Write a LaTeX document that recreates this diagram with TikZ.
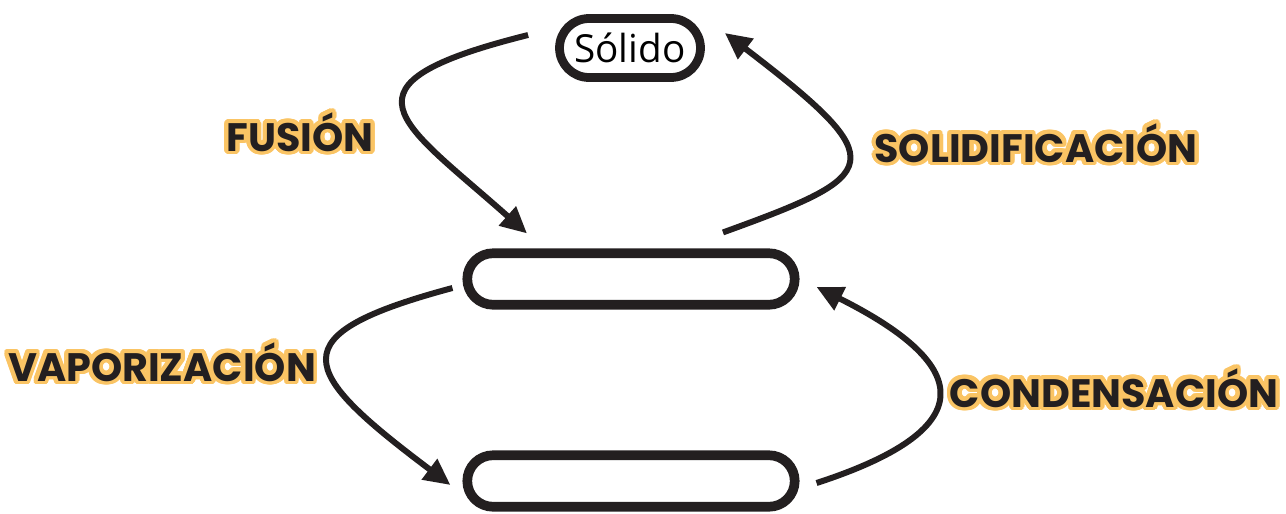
\documentclass[tikz,border=0pt]{standalone}
\usepackage{fontspec}
\usepackage{contour}
\usetikzlibrary{arrows.meta}
\newfontfamily\etiqfont{Poppins}
\newfontfamily\estadofont{Open Sans}
\definecolor{brillo}{RGB}{250,196,100}
\definecolor{tinta}{RGB}{35,31,32}
\contourlength{2.2pt}
\contournumber{32}

\begin{document}
\begin{tikzpicture}[x=0.02cm,y=-0.02cm,
    estado/.style={draw=tinta,line width=5.5pt,inner sep=0pt,minimum width=6.55cm,minimum height=1.03cm,rounded corners=0.515cm},
    flecha/.style={draw=tinta,line width=3.4pt,-{Triangle[length=15pt,width=14pt]}},
    proceso/.style={anchor=base,font=\etiqfont\bfseries\fontsize{22.6}{26}\selectfont,text=tinta}]
  \useasboundingbox (0,0) rectangle (1286,514);
  \node (solido) at (630,48) [estado,line width=5pt,minimum width=2.82cm,minimum height=1.18cm,rounded corners=0.59cm,font=\estadofont\fontsize{22}{26}\selectfont] {Sólido};
  \node (liquido) at (631,279) [estado] {};
  \node (gas) at (631,481) [estado] {};
  \draw[flecha] ([shift={(-27,-13)}]solido.west) .. controls +(-200,50) and +(-127,-113) .. ([shift={(-104,-15)}]liquido.north);
  \draw[flecha] ([shift={(92,-16)}]liquido.north) .. controls +(160,-58) and +(170,130) .. ([shift={(20,-15)}]solido.east);
  \draw[flecha] ([shift={(-10,9)}]liquido.west) .. controls +(-175,47) and +(-153,-115) .. ([shift={(-12,4)}]gas.west);
  \draw[flecha] ([shift={(17,2)}]gas.east) .. controls +(163,-53) and +(160,80) .. ([shift={(17,8)}]liquido.east);
  \node (fusion) at (300,151) [proceso] {\contour{brillo}{FUSIÓN}};
  \node (solidif) at (1036,162) [proceso] {\contour{brillo}{SOLIDIFICACIÓN}};
  \node (vapor) at (162,381) [proceso] {\contour{brillo}{VAPORIZACIÓN}};
  \node (conden) at (1114,407) [proceso] {\contour{brillo}{CONDENSACIÓN}};
\end{tikzpicture}
\end{document}
